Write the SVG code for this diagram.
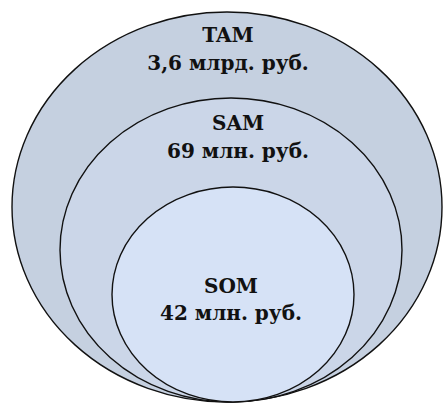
<svg xmlns="http://www.w3.org/2000/svg" width="445" height="403" viewBox="0 0 445 403">
  <style>
    .ring { stroke: #111; stroke-width: 1.4; }
    .lbl { font-family: 'DejaVu Serif', 'Liberation Serif', serif; font-weight: 700; font-size: 20px; fill: #111; text-anchor: middle; }
  </style>
  <rect width="445" height="403" fill="#ffffff"/>
  <g id="tam">
    <ellipse class="ring" cx="227" cy="207" rx="215" ry="195" fill="#c5d0e0"/>
    <text class="lbl" x="228" y="42">TAM</text>
    <text class="lbl" x="228" y="70">3,6 млрд. руб.</text>
  </g>
  <g id="sam">
    <ellipse class="ring" cx="231" cy="250" rx="171" ry="152" fill="#cbd6e8"/>
    <text class="lbl" x="238" y="130">SAM</text>
    <text class="lbl" x="238" y="158">69 млн. руб.</text>
  </g>
  <g id="som">
    <ellipse class="ring" cx="233" cy="294.5" rx="121" ry="107.5" fill="#d6e2f6"/>
    <text class="lbl" x="231" y="293">SOM</text>
    <text class="lbl" x="231" y="320">42 млн. руб.</text>
  </g>
</svg>
